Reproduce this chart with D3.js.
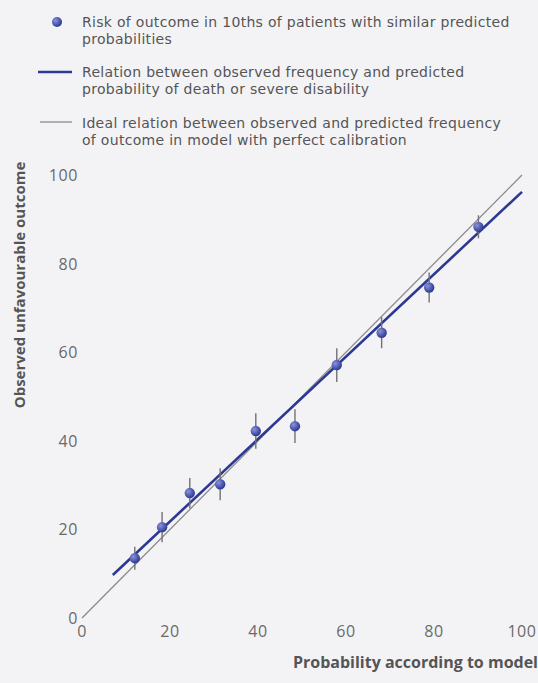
<!DOCTYPE html>
<html><head><meta charset="utf-8">
<script src="https://cdn.jsdelivr.net/npm/d3@7"></script>
<style>
html,body{margin:0;padding:0;background:#f3f3f5;}
svg{display:block;font-family:"Open Sans",sans-serif;}
</style></head>
<body>
<svg id="c" width="538" height="683"></svg>
<script>
// Data
const predicted = [12.0, 18.2, 24.5, 31.4, 39.5, 48.4, 57.9, 68.1, 78.9, 90.1];
const observed  = [13.5, 20.5, 28.2, 30.2, 42.2, 43.3, 57.1, 64.4, 74.6, 88.3];
const errLow    = [10.9, 17.1, 24.8, 26.6, 38.2, 39.5, 53.3, 60.9, 71.2, 85.7];
const errHigh   = [16.1, 23.9, 31.6, 33.8, 46.2, 47.1, 60.9, 67.9, 78.0, 90.9];
const fitX = [7, 100];
const fitY = [9.7, 96.2];
const idealX = [0, 100];
const idealY = [0, 100];
const ticks = [0, 20, 40, 60, 80, 100];
const legendLabels = [
  ["Risk of outcome in 10ths of patients with similar predicted", "probabilities"],
  ["Relation between observed frequency and predicted", "probability of death or severe disability"],
  ["Ideal relation between observed and predicted frequency", "of outcome in model with perfect calibration"]
];
const xTitle = "Probability according to model";
const yTitle = "Observed unfavourable outcome";

const svg = d3.select("#c");
const x = d3.scaleLinear().domain([0,100]).range([82,522]);
const y = d3.scaleLinear().domain([0,100]).range([618,175]);

const defs = svg.append("defs");
const g = defs.append("radialGradient").attr("id","dot").attr("cx","35%").attr("cy","35%").attr("r","65%");
g.append("stop").attr("offset","0%").attr("stop-color","#8a93d8");
g.append("stop").attr("offset","100%").attr("stop-color","#2e3a98");

// Tick labels
svg.append("g").selectAll("text").data(ticks).join("text")
  .attr("x", d=>x(d)).attr("y", 637).attr("text-anchor","middle")
  .attr("font-size",16).attr("letter-spacing",0.6).attr("fill","#6a6a6a").text(d=>d);
svg.append("g").selectAll("text").data(ticks).join("text")
  .attr("x", 78).attr("y", d=>y(d)+6).attr("text-anchor","end")
  .attr("font-size",16).attr("letter-spacing",0.6).attr("fill","#6a6a6a").text(d=>d);

// Axis titles
svg.append("text").attr("x",538).attr("y",668).attr("text-anchor","end")
  .attr("font-size",16).attr("font-weight","bold").attr("fill","#555").text(xTitle);
svg.append("text").attr("transform","translate(25,285) rotate(-90)").attr("text-anchor","middle")
  .attr("font-size",15).attr("font-weight","bold").attr("fill","#555").text(yTitle);

const line = d3.line().x(d=>x(d[0])).y(d=>y(d[1]));
// Ideal line
svg.append("path").datum(idealX.map((v,i)=>[v,idealY[i]])).attr("d",line)
  .attr("fill","none").attr("stroke","#8a8a8a").attr("stroke-width",1.3);
// Fit line
svg.append("path").datum(fitX.map((v,i)=>[v,fitY[i]])).attr("d",line)
  .attr("fill","none").attr("stroke","#2c3992").attr("stroke-width",2.6);

// Error bars
svg.append("g").selectAll("line").data(predicted).join("line")
  .attr("x1",(d)=>x(d)).attr("x2",d=>x(d))
  .attr("y1",(d,i)=>y(errLow[i])).attr("y2",(d,i)=>y(errHigh[i]))
  .attr("stroke","#727272").attr("stroke-width",1.4);
// Points
svg.append("g").selectAll("circle").data(predicted).join("circle")
  .attr("cx",d=>x(d)).attr("cy",(d,i)=>y(observed[i])).attr("r",5.2)
  .attr("fill","url(#dot)");

// Legend
const lg = svg.append("g");
lg.append("circle").attr("cx",57).attr("cy",22).attr("r",5).attr("fill","url(#dot)");
lg.append("line").attr("x1",38).attr("x2",72).attr("y1",72).attr("y2",72).attr("stroke","#2c3992").attr("stroke-width",2.4);
lg.append("line").attr("x1",40).attr("x2",72).attr("y1",122).attr("y2",122).attr("stroke","#8a8a8a").attr("stroke-width",1.3);
const base = [27, 77, 128];
legendLabels.forEach((ls,i)=>{
  ls.forEach((s,j)=>{
    lg.append("text").attr("x",82).attr("y",base[i] + j*17)
      .style("font-family","'DejaVu Sans', sans-serif").attr("font-size",14)
      .attr("letter-spacing",0.3).attr("fill","#555").text(s);
  });
});
</script>
</body></html>
